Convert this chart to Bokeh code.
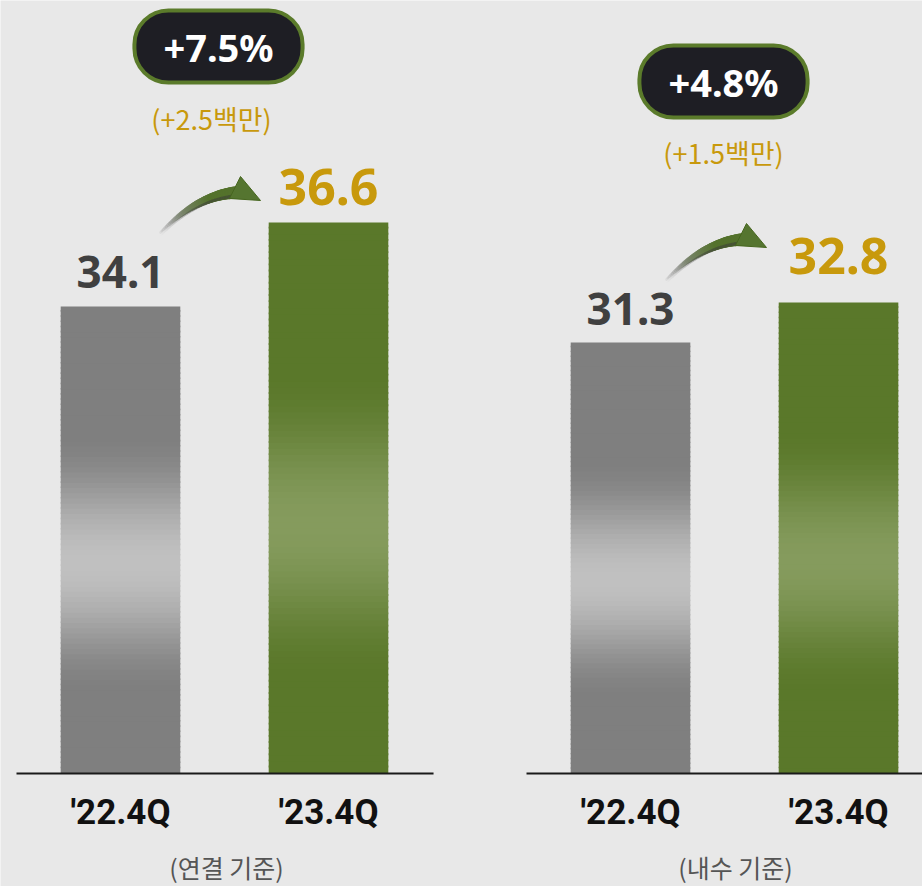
import numpy as np
from bokeh.plotting import figure
from bokeh.models import Range1d
from bokeh.core.properties import value
from bokeh.embed import file_html
from bokeh.resources import INLINE

# ---------------- data ----------------
categories = ["'22.4Q", "'23.4Q"]
consolidated = [34.1, 36.6]      # 연결 기준
domestic = [31.3, 32.8]          # 내수 기준
growth_pct = ["+7.5%", "+4.8%"]
growth_abs = ["(+2.5백만)", "(+1.5백만)"]
panel_notes = ["(연결 기준)", "(내수 기준)"]

# ---------------- style / layout ----------------
W, H = 922, 886
BG = "#e8e8e8"
GOLD = "#c8990c"
GRAY_TXT = "#404040"
BAR_DARK = [(127, 127, 127), (90, 120, 42)]
BAR_LIGHT = [(192, 192, 192), (133, 155, 93)]
PX_PER_X = 208.0          # horizontal pixels per category slot
X_START = -120 / PX_PER_X
BASE_PY = 773             # page y of the baselines

panels = [
    dict(values=consolidated, pct=growth_pct[0], diff=growth_abs[0], note=panel_notes[0],
         offset=0.0, span=(-0.5, 1.505), base=20.2, ppu=33.6, rng="default",
         badge=(218, 46), sub=(211, 118), tail=(160, 232), gaps=(34, 35),
         note_pos=(226, 866)),
    dict(values=domestic, pct=growth_pct[1], diff=growth_abs[1], note=panel_notes[1],
         offset=2.452, span=(-0.5, 1.41), base=15.14, ppu=26.67, rng="dom",
         badge=(723, 81), sub=(723, 152), tail=(666, 279), gaps=(33.5, 46.5),
         note_pos=(735, 866)),
]


def yr_for(c):
    return (c["base"] - (H - BASE_PY) / c["ppu"], c["base"] + BASE_PY / c["ppu"])


p = figure(width=W, height=H, output_backend="svg", toolbar_location=None,
           x_range=Range1d(X_START, X_START + W / PX_PER_X),
           y_range=Range1d(*yr_for(panels[0])),
           x_axis_location=None, y_axis_location=None, min_border=0,
           background_fill_color=BG, border_fill_color=BG, outline_line_color=None)
p.extra_y_ranges = {"dom": Range1d(*yr_for(panels[1]))}
p.grid.visible = False


def bump(t, c=0.45, hw=0.28):
    d = np.abs(t - c) / hw
    return np.where(d < 1, 0.5 * (1 + np.cos(np.pi * np.clip(d, 0, 1))), 0.0)


def hexc(rgb):
    return "#%02x%02x%02x" % tuple(int(round(v)) for v in rgb)


for cfg in panels:
    rn = cfg["rng"]
    y0 = yr_for(cfg)[0]
    a = cfg["ppu"]
    base = cfg["base"]
    off = cfg["offset"]

    def to_data(px, py):
        return X_START + px / PX_PER_X, y0 + (H - py) / a

    vals = cfg["values"]
    xs = off + np.arange(len(vals))
    bw = 0.575
    N = 90
    # gradient bars made from thin slices
    for i, v in enumerate(vals):
        edges = np.linspace(base, v, N + 1)
        t = (0.5 * (edges[:-1] + edges[1:]) - base) / (v - base)
        f = bump(t)
        d = np.array(BAR_DARK[i]); l = np.array(BAR_LIGHT[i])
        cols = [hexc(d + (l - d) * k) for k in f]
        tops = np.minimum(edges[1:] + (edges[1] - edges[0]) * 0.3, v)
        p.quad(left=[xs[i] - bw / 2] * N, right=[xs[i] + bw / 2] * N,
               bottom=edges[:-1], top=tops, fill_color=cols, line_color=None,
               y_range_name=rn)

    # baseline
    p.segment(x0=[off + cfg["span"][0]], x1=[off + cfg["span"][1]], y0=[base], y1=[base],
              line_color="#1a1a1a", line_width=2, y_range_name=rn)

    # value labels above the bars
    lab_sizes = ["44px", "50px"]
    lab_cols = [GRAY_TXT, GOLD]
    for i, v in enumerate(vals):
        p.text(x=[xs[i]], y=[v + cfg["gaps"][i] / a], text=[f"{v:.1f}"],
               text_align="center", text_baseline="middle", text_font=value("Noto Sans"),
               text_font_style="bold", text_font_size=lab_sizes[i], text_color=lab_cols[i],
               y_range_name=rn)

    # category labels below the baseline
    cy = base - (812 - BASE_PY) / a
    p.text(x=list(xs), y=[cy] * len(xs), text=categories, text_align="center",
           text_baseline="middle", text_font=value("Roboto"), text_font_style="bold",
           text_font_size="35px", text_color="#111111", y_range_name=rn)

    # panel note
    nx, ny = to_data(*cfg["note_pos"])
    p.text(x=[nx], y=[ny], text=[cfg["note"]], text_align="center", text_baseline="middle",
           text_font=value("Noto Sans CJK KR"), text_font_size="25px", text_color="#555555",
           y_range_name=rn)

    # curved arrow
    T = np.array(cfg["tail"], dtype=float)
    P0, P1, P2 = T, T + np.array([36, -37]), T + np.array([76, -40])
    n = 48
    s = np.linspace(0, 1, n + 1)
    pts = ((1 - s)[:, None] ** 2) * P0 + (2 * (1 - s) * s)[:, None] * P1 + (s ** 2)[:, None] * P2
    dpts = np.array([to_data(*q) for q in pts])
    sm = 0.5 * (s[:-1] + s[1:])
    widths = 2.5 + 10 * sm
    c_start = np.array([140, 140, 140]); c_end = np.array([84, 114, 44])
    mix = np.clip((sm - 0.1) / 0.6, 0, 1)
    seg_cols = [hexc(c_start + (c_end - c_start) * m) for m in mix]
    alphas = np.clip(0.1 + sm * 1.8, 0, 1)
    p.segment(x0=dpts[:-1, 0], y0=dpts[:-1, 1], x1=dpts[1:, 0], y1=dpts[1:, 1],
              line_width=widths, line_color=seg_cols, line_alpha=alphas, line_cap="round",
              y_range_name=rn)
    lo = pts + np.array([0, 3.5])
    dlo = np.array([to_data(*q) for q in lo])
    p.segment(x0=dlo[:-1, 0], y0=dlo[:-1, 1], x1=dlo[1:, 0], y1=dlo[1:, 1],
              line_width=1.5 + 2 * sm, line_color="#3a3a3a",
              line_alpha=np.clip(sm * 0.9, 0, 0.55), y_range_name=rn)
    head = [T + np.array(o) for o in ([80, -56], [100, -32], [69, -34])]
    hd = np.array([to_data(*q) for q in head])
    p.patch(x=hd[:, 0], y=hd[:, 1], fill_color="#557530", line_color="#46661f", line_width=1,
            y_range_name=rn)

    # badge and absolute change
    bx, by = to_data(*cfg["badge"])
    p.text(x=[bx], y=[by], text=[cfg["pct"]], text_align="center", text_baseline="middle",
           text_font=value("Noto Sans"), text_font_style="bold", text_font_size="38px",
           text_color="white", background_fill_color="#1e1e24",
           border_line_color="#5b7b2b", border_line_width=4,
           padding=(29, 10), border_radius=34, y_range_name=rn)
    sxp, syp = to_data(*cfg["sub"])
    p.text(x=[sxp], y=[syp], text=[cfg["diff"]], text_align="center", text_baseline="middle",
           text_font=value("Noto Sans CJK KR"), text_font_size="27px", text_color=GOLD,
           y_range_name=rn)

open("out.html", "w").write(file_html(p, INLINE))
